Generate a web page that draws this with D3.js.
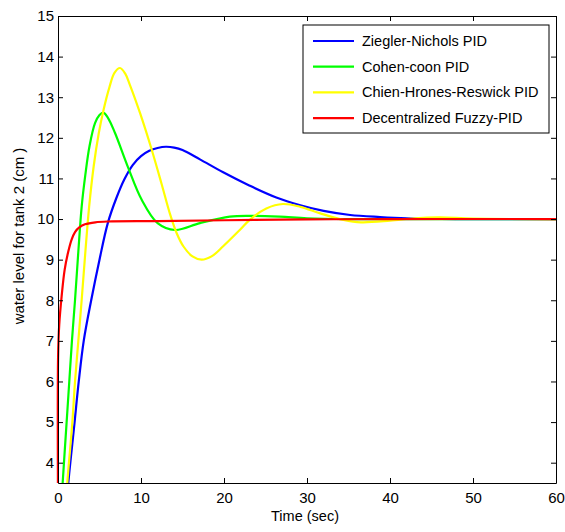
<!DOCTYPE html>
<html>
<head>
<meta charset="utf-8">
<script src="https://cdn.jsdelivr.net/npm/d3@7"></script>
<style>
body { margin: 0; background: #fff; }
svg { font-family: "Liberation Sans", Arial, sans-serif; }
</style>
</head>
<body>
<svg id="myGraph" width="565" height="532"></svg>
<script>
// 凡例の名前と色
var seriesNames = ["Ziegler-Nichols PID", "Cohen-coon PID", "Chien-Hrones-Reswick PID", "Decentralized Fuzzy-PID"];
var seriesColors = ["#0000ff", "#00ff00", "#ffff00", "#ff0000"];
// 目盛り
var xTicks = [0, 10, 20, 30, 40, 50, 60];
var yTicks = [4, 5, 6, 7, 8, 9, 10, 11, 12, 13, 14, 15];
// 各曲線のデータ [時間, 水位]
var zieglerNichols = [[1.1,3.1],[1.24,3.5],[2.0,5.0],[2.5,6.0],[3.1,7.0],[4.0,8.0],[5.0,9.0],[6.0,9.9],[7.0,10.5],[8.0,10.98],[9.0,11.33],[10,11.55],[11,11.68],[12,11.75],[13,11.78],[14,11.76],[15,11.7],[17.1,11.47],[19.9,11.15],[23.1,10.82],[26.3,10.53],[29.2,10.34],[32,10.2],[35.2,10.1],[38.8,10.05],[42,10.02],[48,10],[60,10]];
var cohenCoon = [[0.45,3.1],[0.56,3.5],[1.04,5],[1.36,6],[1.68,7],[2.05,8],[2.45,9.2],[2.85,10.3],[3.3,11.1],[3.8,11.8],[4.46,12.36],[5.0,12.56],[5.46,12.62],[6.0,12.5],[6.87,12.12],[8.43,11.28],[10.1,10.47],[12,9.9],[14.1,9.73],[17.1,9.9],[20.7,10.06],[23.1,10.08],[26.7,10.06],[30,10.02],[35,10],[60,10]];
var chienHrones = [[1.02,3.1],[1.12,3.5],[1.73,5],[2.05,6],[2.45,7],[2.85,8],[3.3,9.2],[3.75,10.3],[4.3,11.3],[4.9,12.1],[5.5,12.7],[6.2,13.25],[6.8,13.6],[7.47,13.72],[8.1,13.58],[8.67,13.3],[9.9,12.6],[11.3,11.7],[12.5,10.85],[13.5,10.12],[14.3,9.65],[15.1,9.33],[16.2,9.08],[17.3,9.0],[18.5,9.08],[19.9,9.33],[21.9,9.73],[23.1,9.98],[25.1,10.26],[27.1,10.37],[29.2,10.3],[31.6,10.14],[34.4,9.98],[36.5,9.92],[40,9.96],[43,10.02],[46,10.04],[50,10.01],[60,10]];
var fuzzyPid = [[0,3.0],[0.01,6.6],[0.15,7.4],[0.44,8.1],[0.8,8.75],[1.24,9.2],[1.65,9.5],[2.05,9.68],[2.6,9.8],[3.25,9.87],[4.5,9.92],[6,9.94],[12,9.95],[20,9.97],[30,9.99],[40,10],[60,10]];
var seriesData = [zieglerNichols, cohenCoon, chienHrones, fuzzyPid];

var svg = d3.select("#myGraph");
var plotLeft = 58, plotRight = 556, plotTop = 16, plotBottom = 483;

var x = d3.scaleLinear().domain([0, 60]).range([plotLeft, plotRight]);
var y = d3.scaleLinear().domain([3.5, 15]).range([plotBottom, plotTop]);

svg.append("clipPath").attr("id", "plotClip")
	.append("rect")
	.attr("x", plotLeft - 2).attr("y", plotTop)
	.attr("width", plotRight - plotLeft + 2).attr("height", plotBottom - plotTop);

// 曲線
var line = d3.line()
	.x(function(d){ return x(d[0]); })
	.y(function(d){ return y(d[1]); })
	.curve(d3.curveCatmullRom.alpha(0.5));

svg.append("g").attr("clip-path", "url(#plotClip)")
	.selectAll("path")
	.data(seriesData)
	.enter()
	.append("path")
	.attr("d", line)
	.attr("fill", "none")
	.attr("stroke", function(d, i){ return seriesColors[i]; })
	.attr("stroke-width", 2.2)
	.attr("stroke-linejoin", "round");

// 軸（目盛りは内向き）
function styleAxis(g){
	g.selectAll("path, line").attr("stroke", "#000");
	g.selectAll("text").attr("fill", "#000").attr("font-size", "15px");
	g.attr("font-family", null);
}
svg.append("g").attr("transform", "translate(0," + plotBottom + ")")
	.call(d3.axisBottom(x).tickValues(xTicks).tickSize(-5).tickSizeOuter(0).tickPadding(9))
	.call(styleAxis);
svg.append("g").attr("transform", "translate(0," + plotTop + ")")
	.call(d3.axisTop(x).tickValues(xTicks).tickSize(-5).tickSizeOuter(0).tickFormat(""))
	.call(styleAxis);
svg.append("g").attr("transform", "translate(" + plotLeft + ",0)")
	.call(d3.axisLeft(y).tickValues(yTicks).tickSize(-5).tickSizeOuter(0).tickPadding(4))
	.call(styleAxis);
svg.append("g").attr("transform", "translate(" + plotRight + ",0)")
	.call(d3.axisRight(y).tickValues(yTicks).tickSize(-5).tickSizeOuter(0).tickFormat(""))
	.call(styleAxis);

// 軸ラベル
svg.append("text")
	.attr("x", 305).attr("y", 521)
	.attr("text-anchor", "middle")
	.attr("font-size", "14.5px")
	.text("Time (sec)");
svg.append("text")
	.attr("transform", "translate(24,236) rotate(-90)")
	.attr("text-anchor", "middle")
	.attr("font-size", "15px")
	.text("water level for tank 2 (cm )");

// 凡例
var legend = svg.append("g").attr("transform", "translate(303,25)");
legend.append("rect")
	.attr("width", 246).attr("height", 108)
	.attr("fill", "#fff").attr("stroke", "#000").attr("stroke-width", 1);
var item = legend.selectAll("g.item")
	.data(seriesNames)
	.enter()
	.append("g")
	.attr("class", "item")
	.attr("transform", function(d, i){ return "translate(0," + (16 + i * 25.7) + ")"; });
item.append("line")
	.attr("x1", 10).attr("x2", 51)
	.attr("stroke", function(d, i){ return seriesColors[i]; })
	.attr("stroke-width", 2.2);
item.append("text")
	.attr("x", 59).attr("y", 5)
	.attr("font-size", "14.5px")
	.text(function(d){ return d; });
</script>
</body>
</html>
